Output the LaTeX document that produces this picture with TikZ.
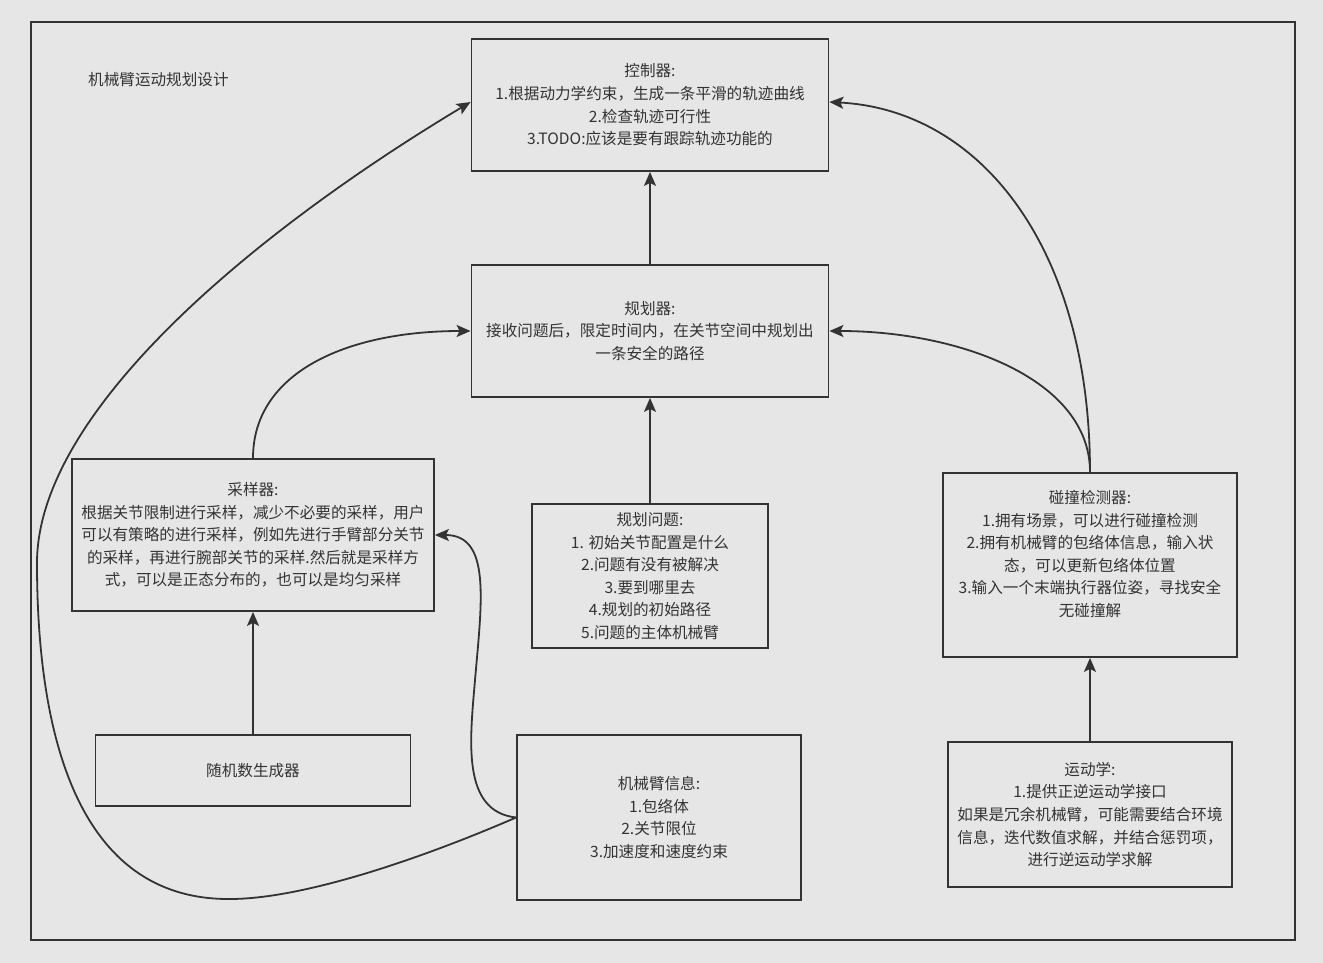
\documentclass[tikz,border=0pt]{standalone}
\usepackage{fontspec}
\setmainfont{Noto Sans CJK SC}
\usetikzlibrary{arrows.meta}
\definecolor{bg}{HTML}{E6E6E6}
\definecolor{ink}{HTML}{333333}
\begin{document}
\begin{tikzpicture}[x=1pt,y=-1pt,
  box/.style={draw=ink, line width=1.8pt, fill=bg, text=ink, align=center,
    inner sep=0pt, font=\fontsize{15.6pt}{22.6pt}\selectfont},
  txt/.style={text=ink, align=center, inner sep=0pt,
    font=\fontsize{15.6pt}{22.6pt}\selectfont},
  link/.style={draw=ink, line width=1.8pt,
    -{Stealth[length=14pt,width=12pt,inset=3pt]}},
]
% page and outer frame
\fill[bg] (0,0) rectangle (1323,963);
\useasboundingbox (0,0) rectangle (1323,963);
\draw[ink, line width=1.8pt] (31,22) rectangle (1295,940);

\node[txt, anchor=west] (title) at (88,80) {机械臂运动规划设计};

% components
\node[box, minimum width=357pt, minimum height=132pt] (ctrl) at (650,105)
  {控制器:\\1.根据动力学约束，生成一条平滑的轨迹曲线\\2.检查轨迹可行性\\3.TODO:应该是要有跟踪轨迹功能的};
\node[box, minimum width=357pt, minimum height=132pt] (plan) at (650,331)
  {规划器:\\接收问题后，限定时间内，在关节空间中规划出\\一条安全的路径};
\node[box, minimum width=362pt, minimum height=152pt] (samp) at (253,535)
  {采样器:\\根据关节限制进行采样，减少不必要的采样，用户\\可以有策略的进行采样，例如先进行手臂部分关节\\的采样，再进行腕部关节的采样.然后就是采样方\\式，可以是正态分布的，也可以是均匀采样};
\node[box, minimum width=236pt, minimum height=144pt] (prob) at (650,576)
  {规划问题:\\1. 初始关节配置是什么\\2.问题有没有被解决\\3.要到哪里去\\4.规划的初始路径\\5.问题的主体机械臂};
\node[box, minimum width=294pt, minimum height=184pt] (coll) at (1090,565) {};
\node[txt] (colltxt) at (1090,554)
  {碰撞检测器:\\1.拥有场景，可以进行碰撞检测\\2.拥有机械臂的包络体信息，输入状\\态，可以更新包络体位置\\3.输入一个末端执行器位姿，寻找安全\\无碰撞解};
\node[box, minimum width=315pt, minimum height=71pt] (rand) at (253,770.5) {随机数生成器};
\node[box, minimum width=284pt, minimum height=165pt] (arm) at (659,817.5)
  {机械臂信息:\\1.包络体\\2.关节限位\\3.加速度和速度约束};
\node[box, minimum width=284pt, minimum height=145pt] (kin) at (1090,814.5)
  {运动学:\\1.提供正逆运动学接口\\如果是冗余机械臂，可能需要结合环境\\信息，迭代数值求解，并结合惩罚项，\\进行逆运动学求解};

% straight links
\draw[link] (plan.north) -- (ctrl.south);
\draw[link] (prob.north) -- (plan.south);
\draw[link] (rand.north) -- (samp.south);
\draw[link] (kin.north) -- (coll.south);

% curved links
\draw[link] (samp.north) .. controls +(0,-85) and +(-125,0) .. (plan.west);
\draw[link] (coll.north) .. controls +(0,-93) and +(130,0) .. (plan.east);
\draw[link] (coll.north) .. controls +(0,-223) and +(152,8) .. ([yshift=3pt]ctrl.east);

\coordinate (bendA) at (475,680);
\draw[link] (arm.west) .. controls +(-55,-6) and +(-5,60) .. (bendA)
  .. controls +(7,-80) and +(56,0) .. (samp.east);

\coordinate (low) at (227,899);
\coordinate (side) at (37,563);
\draw[link] (arm.west) .. controls +(-97,42) and +(73,1) .. (low)
  .. controls +(-147,-1) and +(0,177) .. (side)
  .. controls +(0,-150) and +(-220,132) .. ([yshift=3pt]ctrl.west);
\end{tikzpicture}
\end{document}
